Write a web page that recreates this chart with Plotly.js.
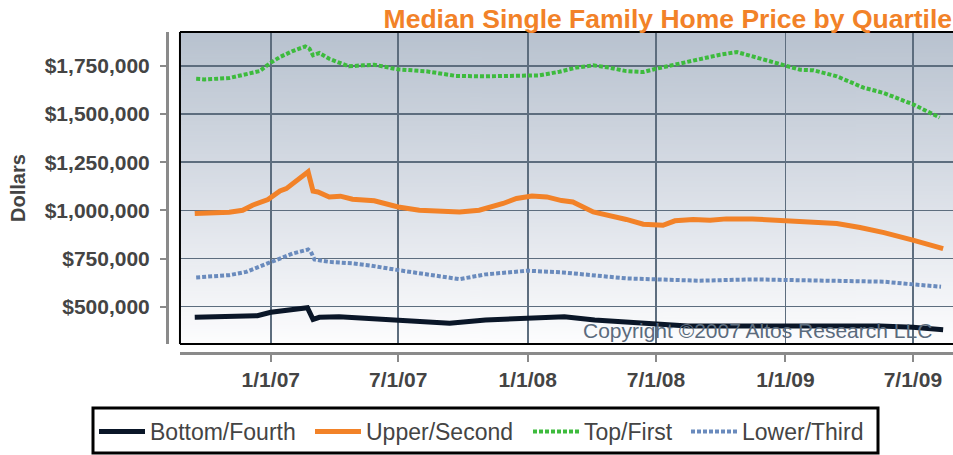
<!DOCTYPE html>
<html>
<head>
<meta charset="utf-8">
<script src="https://cdn.plot.ly/plotly-3.0.1.min.js"></script>
<style>html,body{margin:0;padding:0;background:#fff;}#chart{width:953px;height:455px;}</style>
</head>
<body>
<div id="chart"></div>
<script>
// ---- Data ----
const bottomDates = ['2006-09-15','2006-11-03','2006-12-13','2007-01-01','2007-01-23','2007-02-22','2007-03-02','2007-03-11','2007-04-08','2007-05-24','2007-07-01','2007-09-12','2007-11-02','2008-01-01','2008-02-10','2008-02-22','2008-04-05','2008-07-01','2008-08-15','2009-01-01','2009-05-15','2009-07-01','2009-08-13'];
const bottomValues = [445000,448000,453000,471000,483000,495000,434000,445000,448000,438000,434000,414000,431000,442000,451000,448000,431000,411000,400000,400000,400000,393000,380000];

const upperDates = ['2006-09-15','2006-10-08','2006-11-03','2006-11-22','2006-12-06','2006-12-28','2007-01-14','2007-01-23','2007-02-04','2007-02-23','2007-03-02','2007-03-09','2007-03-25','2007-04-10','2007-04-27','2007-05-28','2007-07-01','2007-07-31','2007-09-26','2007-10-24','2007-11-27','2007-12-16','2008-01-07','2008-01-28','2008-02-18','2008-03-05','2008-04-03','2008-04-26','2008-05-20','2008-06-13','2008-07-11','2008-07-28','2008-08-23','2008-09-16','2008-10-09','2008-11-15','2009-01-01','2009-02-05','2009-03-15','2009-04-17','2009-05-21','2009-07-01','2009-08-13'];
const upperValues = [984000,987000,991000,1001000,1027000,1056000,1101000,1113000,1148000,1200000,1100000,1096000,1070000,1074000,1058000,1050000,1018000,1001000,992000,1001000,1036000,1062000,1075000,1070000,1051000,1044000,992000,975000,953000,928000,923000,946000,953000,949000,956000,956000,949000,941000,932000,911000,885000,846000,802000];

const topDates = ['2006-09-17','2006-09-29','2006-11-03','2006-11-27','2006-12-16','2007-01-01','2007-01-14','2007-02-01','2007-02-19','2007-02-25','2007-03-02','2007-03-11','2007-03-25','2007-04-08','2007-04-22','2007-05-12','2007-05-28','2007-06-08','2007-07-01','2007-08-10','2007-09-21','2007-11-02','2008-01-01','2008-01-18','2008-02-15','2008-03-10','2008-04-03','2008-04-26','2008-05-20','2008-06-13','2008-07-01','2008-07-30','2008-09-01','2008-09-30','2008-10-24','2008-11-15','2008-12-05','2009-01-01','2009-01-22','2009-02-10','2009-03-15','2009-04-22','2009-05-21','2009-07-01','2009-08-08'];
const topValues = [1683000,1680000,1687000,1710000,1723000,1767000,1796000,1827000,1851000,1839000,1805000,1817000,1787000,1767000,1748000,1753000,1756000,1748000,1732000,1722000,1698000,1696000,1696000,1701000,1720000,1741000,1753000,1741000,1723000,1718000,1735000,1758000,1787000,1808000,1822000,1800000,1775000,1753000,1730000,1727000,1696000,1637000,1609000,1551000,1482000];

const lowerDates = ['2006-09-17','2006-09-30','2006-11-03','2006-11-27','2006-12-20','2007-01-14','2007-02-01','2007-02-23','2007-02-27','2007-03-04','2007-03-25','2007-04-27','2007-05-24','2007-07-01','2007-08-10','2007-09-26','2007-11-02','2007-12-11','2008-01-01','2008-02-20','2008-04-03','2008-05-20','2008-07-01','2008-09-01','2008-11-15','2009-01-01','2009-02-15','2009-05-21','2009-07-01','2009-08-10'];
const lowerValues = [652000,655000,664000,681000,716000,751000,776000,797000,785000,745000,733000,725000,713000,690000,668000,643000,668000,681000,687000,678000,661000,647000,642000,635000,642000,638000,633000,630000,616000,604000];

const seriesNames = ['Bottom/Fourth','Upper/Second','Top/First','Lower/Third'];
const xTickVals = ['2007-01-01','2007-07-01','2008-01-01','2008-07-01','2009-01-01','2009-07-01'];
const xTickText = ['1/1/07','7/1/07','1/1/08','7/1/08','1/1/09','7/1/09'];
const yTickVals = [500000,750000,1000000,1250000,1500000,1750000];
const yTickText = ['$500,000','$750,000','$1,000,000','$1,250,000','$1,500,000','$1,750,000'];

// ---- background gradient image for the plot area ----
function gradientImage() {
  const c = document.createElement('canvas');
  c.width = 4; c.height = 300;
  const g = c.getContext('2d');
  const gr = g.createLinearGradient(0, 0, 0, 300);
  gr.addColorStop(0, '#b8c2cf');
  gr.addColorStop(0.5, '#d9dee6');
  gr.addColorStop(1, '#fdfdfe');
  g.fillStyle = gr;
  g.fillRect(0, 0, 4, 300);
  return c.toDataURL('image/png');
}

const FONT = 'Liberation Sans, Arial, Helvetica, sans-serif';
const dotDash = '4px,2px';

const traces = [
  {x: bottomDates, y: bottomValues, name: seriesNames[0], type: 'scatter', mode: 'lines',
   line: {color: '#0a1628', width: 5}, legend: 'legend'},
  {x: upperDates, y: upperValues, name: seriesNames[1], type: 'scatter', mode: 'lines',
   line: {color: '#f28228', width: 5}, legend: 'legend2'},
  {x: topDates, y: topValues, name: seriesNames[2], type: 'scatter', mode: 'lines',
   line: {color: '#3dbb3d', width: 4, dash: dotDash}, legend: 'legend3'},
  {x: lowerDates, y: lowerValues, name: seriesNames[3], type: 'scatter', mode: 'lines',
   line: {color: '#6a8bbd', width: 4, dash: dotDash}, legend: 'legend4'}
];

function legendAt(px) {
  return {
    orientation: 'h',
    xref: 'container', yref: 'container',
    x: px / 953, xanchor: 'left',
    y: 1 - 407 / 455, yanchor: 'top',
    bgcolor: 'rgba(0,0,0,0)', bordercolor: 'rgba(0,0,0,0)', borderwidth: 3,
    font: {family: FONT, size: 23, color: '#444444'},
    itemwidth: 46
  };
}

const layout = {
  width: 953, height: 455,
  margin: {l: 167, r: 0, t: 32, b: 102, pad: 0},
  paper_bgcolor: '#ffffff',
  plot_bgcolor: 'rgba(0,0,0,0)',
  showlegend: true,
  hovermode: false,
  font: {family: FONT, color: '#444444'},
  title: {
    text: 'Median Single Family Home Price by Quartile',
    font: {family: FONT, size: 26.5, color: '#f28228', weight: 700},
    xref: 'container', x: 0.999, xanchor: 'right',
    yref: 'container', y: 1 - 19 / 455, yanchor: 'middle', pad: {t: 0, b: 0, l: 0, r: 0}
  },
  xaxis: {
    type: 'date',
    domain: [0.0165, 1],
    range: ['2006-08-25', '2009-08-27'],
    anchor: 'free', position: 0,
    tickmode: 'array', tickvals: xTickVals, ticktext: xTickText,
    showline: true, linecolor: '#8a8a8a', linewidth: 3,
    ticks: 'outside', ticklen: 7, tickwidth: 2, tickcolor: '#8a8a8a',
    showgrid: true, gridcolor: '#5d6d7e', gridwidth: 1.5,
    zeroline: false,
    tickfont: {family: FONT, size: 21, color: '#444444', weight: 700},
    ticklabelstandoff: 0
  },
  yaxis: {
    domain: [0.028, 1],
    range: [306500, 1926000],
    anchor: 'free', position: 0,
    tickmode: 'array', tickvals: yTickVals, ticktext: yTickText,
    showline: true, linecolor: '#8a8a8a', linewidth: 3,
    ticks: 'outside', ticklen: 6, tickwidth: 2, tickcolor: '#8a8a8a',
    showgrid: true, gridcolor: '#5d6d7e', gridwidth: 1.5,
    zeroline: false,
    tickfont: {family: FONT, size: 21, color: '#444444', weight: 700},
    ticklabelstandoff: 6,
    title: {text: 'Dollars', font: {family: FONT, size: 20, color: '#444444', weight: 700}, standoff: 12}
  },
  legend: legendAt(91),
  legend2: legendAt(307),
  legend3: legendAt(525),
  legend4: legendAt(683),
  images: [{
    source: gradientImage(),
    xref: 'x domain', yref: 'y domain',
    x: 0, y: 1, sizex: 1, sizey: 1,
    xanchor: 'left', yanchor: 'top',
    sizing: 'stretch', layer: 'below'
  }],
  shapes: [
    {type: 'line', xref: 'x domain', yref: 'y domain', x0: 0, x1: 0, y0: 0, y1: 1, line: {color: '#000', width: 2}, layer: 'above'},
    {type: 'line', xref: 'x domain', yref: 'y domain', x0: 0, x1: 1, y0: 1, y1: 1, line: {color: '#000', width: 2}, layer: 'above'},
    {type: 'line', xref: 'x domain', yref: 'y domain', x0: 0, x1: 1, y0: 0, y1: 0, line: {color: '#000', width: 2}, layer: 'above'},
    // legend frame (paper coordinates: x 0 = 167px, width 786px; y 0 = 353px, height 321px)
    {type: 'rect', xref: 'paper', yref: 'paper',
     x0: (93 - 167) / 786, x1: (878 - 167) / 786,
     y0: (353 - 453) / 321, y1: (353 - 408) / 321,
     line: {color: '#000', width: 3}, fillcolor: '#ffffff', layer: 'below'}
  ],
  annotations: [{
    text: 'Copyright ©2007 Altos Research LLC',
    xref: 'x domain', yref: 'y domain',
    x: 0.9754, xanchor: 'right',
    y: 0.042, yanchor: 'middle',
    showarrow: false,
    font: {family: FONT, size: 21, color: '#5b6b7d'}
  }]
};

Plotly.newPlot('chart', traces, layout, {displayModeBar: false, staticPlot: true});
</script>
</body>
</html>
